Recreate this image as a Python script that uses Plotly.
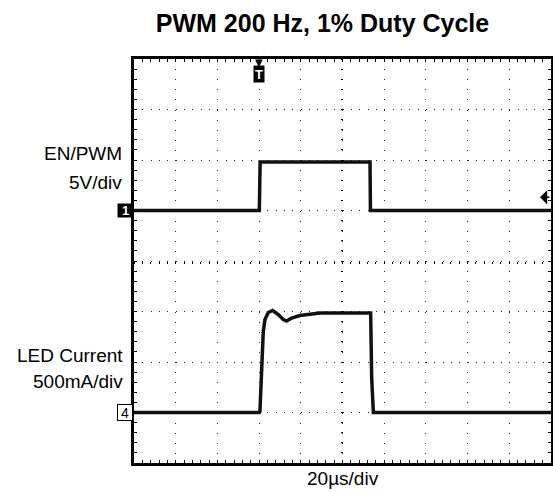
import plotly.graph_objects as go

# ---- data (read from the scope capture) ----
# Channel 1: EN/PWM, 5 V/div, ground marker at +1 div
en_time_us = [-100, -39.9, -39.5, 13.2, 13.4, 100]
en_volts = [0, 0, 4.8, 4.8, 0, 0]
en_volts_per_div = 5.0
en_offset_div = 1.0

# Channel 4: LED current, 500 mA/div, ground marker at -3 div
led_time_us = [-100, -39.9, -39.6, -38.8, -38.0, -37.2, -35.6, -33.5, -30.8,
               -28.4, -26.8, -24.4, -20.4, -10.8, 13.5, 14.0, 14.8, 100]
led_amps = [0, 0, 0.01, 0.34, 0.80, 0.92, 0.99, 1.01, 0.97,
            0.92, 0.905, 0.935, 0.96, 0.985, 0.985, 0.34, 0, 0]
led_amps_per_div = 0.5
led_offset_div = -3.0

trigger_time_us = -40
trigger_level_V = 1.3
time_per_div_us = 20

title_text = "PWM 200 Hz, 1% Duty Cycle"
x_label = "20µs/div"

FONT = "Liberation Sans, Arial, sans-serif"

en_div = [en_offset_div + v / en_volts_per_div for v in en_volts]
led_div = [led_offset_div + a / led_amps_per_div for a in led_amps]

fig = go.Figure()
fig.add_trace(go.Scatter(x=en_time_us, y=en_div, mode="lines",
                         line=dict(color="#111", width=3.5), xaxis="x", yaxis="y",
                         showlegend=False, hoverinfo="skip"))
fig.add_trace(go.Scatter(x=led_time_us, y=led_div, mode="lines",
                         line=dict(color="#111", width=3.5), xaxis="x2", yaxis="y2",
                         showlegend=False, hoverinfo="skip"))

xr = [-5 * time_per_div_us, 5 * time_per_div_us]
yr = [-4, 4]

common_x = dict(range=xr, showticklabels=False, zeroline=False, fixedrange=True,
                automargin=False)
common_y = dict(range=yr, showticklabels=False, zeroline=False, fixedrange=True,
                automargin=False)

fig.update_layout(
    width=553, height=493,
    margin=dict(l=134, r=2, t=59, b=30, autoexpand=False),
    paper_bgcolor="white", plot_bgcolor="white",
    font=dict(family=FONT, color="black"),
    hovermode=False,
    xaxis=dict(**common_x, dtick=time_per_div_us, tick0=0,
               showgrid=True, gridcolor="#222", gridwidth=1, griddash="1px,9.1px",
               ticks="inside", ticklen=3, tickcolor="black",
               minor=dict(dtick=time_per_div_us / 5, ticks="inside", ticklen=3,
                          tickcolor="black", showgrid=False),
               showline=True, linewidth=3, linecolor="black", mirror="allticks"),
    yaxis=dict(**common_y, dtick=1, tick0=0,
               showgrid=True, gridcolor="#222", gridwidth=1, griddash="1px,7.34px",
               ticks="inside", ticklen=3, tickcolor="black",
               minor=dict(dtick=0.2, ticks="inside", ticklen=3,
                          tickcolor="black", showgrid=False),
               showline=True, linewidth=3, linecolor="black", mirror="allticks"),
    xaxis2=dict(**common_x, overlaying="x", anchor="free", position=0.5,
                showgrid=False, showline=False, dtick=time_per_div_us / 5, tick0=0,
                ticks="outside", ticklen=2, tickcolor="black"),
    yaxis2=dict(**common_y, overlaying="y", anchor="free", position=0.5,
                showgrid=False, showline=False, dtick=0.2, tick0=0,
                ticks="outside", ticklen=2, tickcolor="black"),
    xaxis3=dict(**common_x, overlaying="x", anchor="free", position=0.5,
                showgrid=False, showline=False, dtick=time_per_div_us / 5, tick0=0,
                ticks="inside", ticklen=2, tickcolor="black"),
    yaxis3=dict(**common_y, overlaying="y", anchor="free", position=0.5,
                showgrid=False, showline=False, dtick=0.2, tick0=0,
                ticks="inside", ticklen=2, tickcolor="black"),
    title=dict(text="<b>" + title_text + "</b>", x=322.5 / 553, xanchor="center",
               xref="container", yref="container",
               y=1 - 23 / 493, yanchor="middle", automargin=False,
               font=dict(size=25, family=FONT, color="black")),
)

ann = []
def label(text, xr_px, yc_px, anchor="right"):
    ann.append(dict(text=text, xref="paper", yref="paper",
                    x=(xr_px - 134) / 417, y=(463 - yc_px) / 404,
                    xanchor=anchor, yanchor="middle", showarrow=False,
                    font=dict(size=19, family=FONT, color="black")))

label("EN/PWM", 124, 153)
label("5V/div", 124, 182)
label("LED Current", 124.5, 355)
label("500mA/div", 124.5, 381)
label(x_label, 342.5, 478, anchor="center")

# channel markers
ann.append(dict(text="<b>1</b>", xref="paper", yref="y", x=0, y=en_offset_div,
                xanchor="right", yanchor="middle", showarrow=False,
                bgcolor="black", borderpad=0, width=15, height=13,
                font=dict(size=13, color="white", family=FONT)))
ann.append(dict(text="4", xref="paper", yref="y", x=-0.003, y=led_offset_div,
                xanchor="right", yanchor="middle", showarrow=False,
                bgcolor="white", bordercolor="black", borderwidth=1, borderpad=0,
                width=14, height=15,
                font=dict(size=14, color="black", family=FONT)))
# trigger position marker
ann.append(dict(text="<b>T</b>", xref="x", yref="paper", x=trigger_time_us,
                y=(463 - 74) / 404, xanchor="center", yanchor="middle",
                showarrow=False, bgcolor="black", borderpad=0, width=10, height=16,
                font=dict(size=13, color="white", family=FONT)))
ann.append(dict(text="▼", xref="x", yref="paper", x=trigger_time_us,
                y=(463 - 62) / 404, xanchor="center", yanchor="middle",
                showarrow=False, font=dict(size=10, color="black", family="DejaVu Sans")))
# trigger level marker
ann.append(dict(text="", xref="paper", yref="y", x=(540 - 134) / 417,
                y=en_offset_div + trigger_level_V / en_volts_per_div,
                ax=11, ay=0, showarrow=True, arrowhead=1, arrowsize=1.6,
                arrowwidth=1.5, arrowcolor="black"))

fig.update_layout(annotations=ann)
fig.write_html("out.html", config={"displayModeBar": False, "staticPlot": True},
               post_script="document.body.style.margin='0';document.body.style.overflow='hidden';")
